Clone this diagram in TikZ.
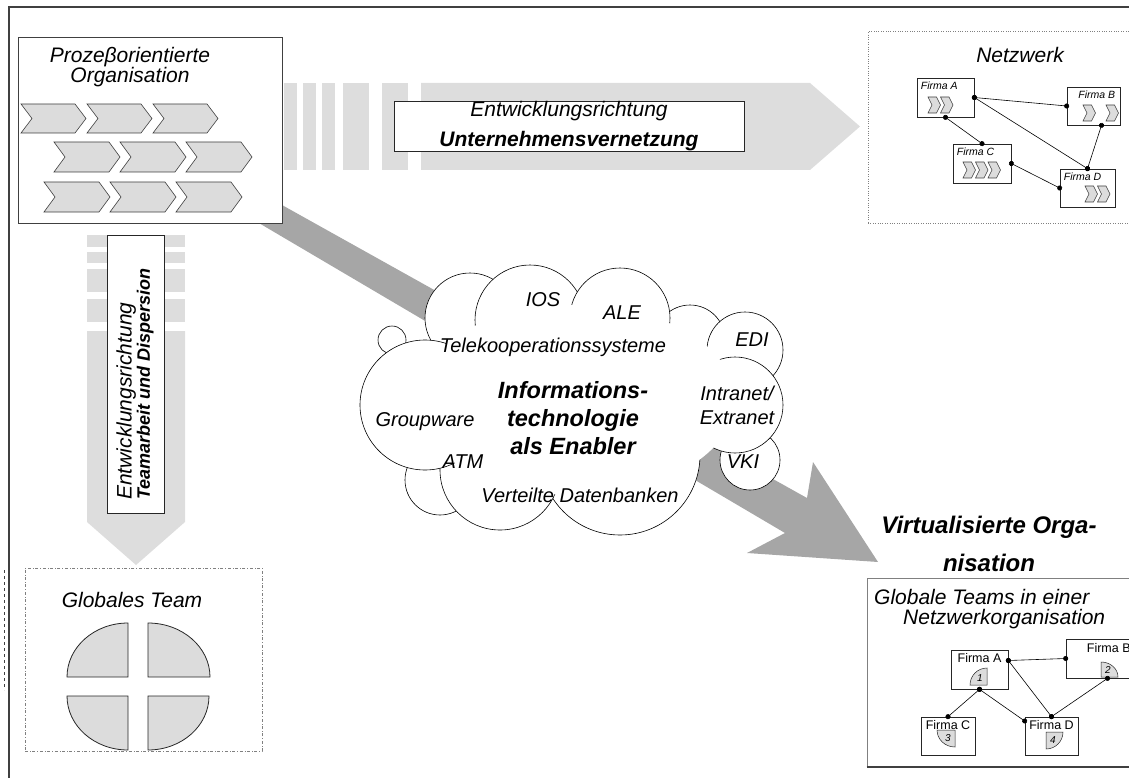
\documentclass[tikz,border=0pt]{standalone}
\usepackage{fontspec}
\setmainfont{Liberation Sans}
\usetikzlibrary{arrows.meta}

\definecolor{arrowlight}{HTML}{DDDDDD}
\definecolor{chevgray}{HTML}{DCDCDC}
\definecolor{bandgray}{HTML}{A6A6A6}
\definecolor{framegray}{HTML}{404040}

\newcommand{\fs}[1]{\fontsize{#1}{1.2\dimexpr #1pt\relax}\selectfont}
% chevron: left x, top y, width, height, depth of tip
\newcommand{\chevron}[5]{\filldraw[chev] (#1,#2) -- ++(#3-#5,0) -- ++(#5,#4/2) -- ++(-#5,#4/2) -- ++(-#3+#5,0) -- ++(#5,-#4/2) -- cycle;}
% quarter ellipse: corner x, corner y, signed x radius, signed y radius
\newcommand{\quarter}[5][quart]{\filldraw[#1] (#2,#3) -- ({#2+#4},#3) .. controls ({#2+#4},{#3+0.552*#5}) and ({#2+0.552*#4},{#3+#5}) .. (#2,{#3+#5}) -- cycle;}

\tikzset{
  chev/.style={fill=chevgray, draw=framegray, line width=0.6pt},
  quart/.style={fill=chevgray, draw=black!85, line width=0.8pt},
  icon/.style={fill=chevgray, draw=black!85, line width=0.5pt},
  whitebox/.style={draw=black!85, fill=white, line width=0.7pt, inner sep=0pt},
  firma/.style={draw=black!85, fill=white, line width=0.7pt, inner sep=0pt},
  link/.style={line width=0.6pt, {Circle[length=5pt]}-{Circle[length=5pt]}, shorten <=-2.5pt, shorten >=-2.5pt},
  puff/.style={fill=white, draw=black, line width=0.6pt},
  it/.style={font=\fs{21}\itshape},
  cloudtxt/.style={font=\fs{20}\itshape},
  cloudbold/.style={font=\fs{23.5}\bfseries\itshape, align=center},
}

\begin{document}
\begin{tikzpicture}[x=1pt, y=-1pt]
\useasboundingbox (0,0) rectangle (1129,778);

% light arrows
\foreach \a/\b in {284/297, 303/316, 322/335, 343/369, 382/408}
  {\fill[arrowlight] (\a,83) rectangle (\b,170);}
\fill[arrowlight] (421,83) -- (810,83) -- (860,126.5) -- (810,170) -- (421,170) -- cycle;
\foreach \a/\b in {235/247, 252/263, 269/292, 299/322}
  {\fill[arrowlight] (87,\a) rectangle (185,\b);}
\fill[arrowlight] (87,331) -- (185,331) -- (185,522) -- (136,565) -- (87,522) -- cycle;

% dark band to the virtual organisation
\fill[bandgray] (230,176) -- (807,498) -- (813,462) -- (878,562) -- (747,553) -- (785,533) -- (230,206) -- cycle;

% process organisation
\node[whitebox, draw=framegray, minimum width=264pt, minimum height=186pt] (proc) at (150,130) {};
\node[align=center, font=\fontsize{21}{20}\selectfont\itshape] (proctitle) at (130,67) {Prozeβorientierte\\Organisation};
\foreach \x in {21,87,153} {\chevron{\x}{104}{65}{29}{11}}
\foreach \x in {54,120,186} {\chevron{\x}{142}{66}{30}{11}}
\foreach \x in {44,110,176} {\chevron{\x}{182}{66}{30}{11}}

% labels on the arrows
\node[whitebox, minimum width=350pt, minimum height=50pt, align=center, font=\fs{21}\itshape] (hbox) at (569,126)
  {Entwicklungsrichtung\\[4pt]\bfseries Unternehmensvernetzung};
\node[whitebox, minimum width=57pt, minimum height=278pt] (vbox) at (135.5,374) {};
\node[rotate=90, align=left] (vtext) at (135,384)
  {{\fs{21}\itshape Entwicklungsrichtung}\\{\fs{18}\bfseries\itshape Teamarbeit und Dispersion}};

% cloud
\foreach \cx/\cy/\r in {392/340/14, 750/460/30, 440/480/35, 690/340/35, 745/350/38,
    470/318/45, 530/320/55, 620/318/50, 735/405/48, 620/455/80, 500/470/60, 425/405/65}
  {\filldraw[puff] (\cx,\cy) circle[radius=\r];}
\fill[white] (575,400) ellipse[x radius=160, y radius=95];
\node[cloudtxt] (ios) at (543,300) {IOS};
\node[cloudtxt] (ale) at (622,313) {ALE};
\node[cloudtxt] (teko) at (553,347) {Telekooperationssysteme};
\node[cloudtxt] (edi) at (752,340) {EDI};
\node[cloudbold] (itech) at (573,418) {Informations-\\technologie\\als Enabler};
\node[cloudtxt, align=center] (inet) at (737,405) {Intranet/\\Extranet};
\node[cloudtxt] (gw) at (425,422) {Groupware};
\node[cloudtxt] (atm) at (463,462) {ATM};
\node[cloudtxt] (vki) at (743,462) {VKI};
\node[cloudtxt] (vdb) at (580,495) {Verteilte Datenbanken};

% network
\node[draw=gray, dotted, minimum width=267pt, minimum height=192pt] (netz) at (1001.5,127) {};
\node[it] (netztitle) at (1020,55) {Netzwerk};
\node[firma, minimum width=57pt, minimum height=39pt] (ta) at (945.5,97.5) {};
\node[firma, minimum width=53pt, minimum height=38pt] (tb) at (1093.5,106) {};
\node[firma, minimum width=58pt, minimum height=39pt] (tc) at (982,163.5) {};
\node[firma, minimum width=55pt, minimum height=38pt] (td) at (1087.5,188) {};
\foreach \n/\t in {ta/Firma A, tc/Firma C, td/Firma D}
  {\node[font=\fs{10.5}\itshape, anchor=north west, inner sep=0pt] (\n lab) at ([shift={(4,4)}]\n.north west) {\t};}
\node[font=\fs{10.5}\itshape, anchor=north east, inner sep=0pt] (tblab) at ([shift={(-5,4)}]tb.north east) {Firma B};
\chevron{928}{97}{12.5}{16}{4}\chevron{940.5}{97}{12.5}{16}{4}
\chevron{1083}{105}{12.5}{16}{4}\chevron{1106}{105}{12.5}{16}{4}
\chevron{963}{162}{12.5}{16}{4}\chevron{975.5}{162}{12.5}{16}{4}\chevron{988}{162}{12.5}{16}{4}
\chevron{1085}{186}{12.5}{16}{4}\chevron{1097.5}{186}{12.5}{16}{4}
\draw[link] (ta.east) -- (tb.west);
\draw[link] (ta.east) -- (td.north);
\draw[link] (ta.south) -- (tc.north);
\draw[link] ([shift={(8,0)}]tb.south) -- (td.north);
\draw[link] (tc.east) -- (td.west);

% global team
\node[draw=gray, dash dot, line width=0.8pt, minimum width=237pt, minimum height=183pt] (gteam) at (143.5,659.5) {};
\node[it] (gtitle) at (132,600) {Globales Team};
\quarter{128}{677}{-61}{-54}
\quarter{148}{677}{62}{-54}
\quarter{128}{696}{-61}{54}
\quarter{148}{696}{61}{54}
\draw[framegray, dashed] (4,570) -- (4,690);

% virtual organisation
\node[font=\fontsize{24}{38}\selectfont\bfseries\itshape, align=center] (virt) at (989,544) {Virtualisierte Orga-\\nisation};
\node[whitebox, draw=gray, minimum width=273pt, minimum height=188pt] (gtbox) at (1003.5,672.5) {};
\draw[framegray, line width=2.5pt] (gtbox.south west) -- (gtbox.south east);
\node[it, anchor=west, inner sep=0pt] (gtl1) at (874,597) {Globale Teams in einer};
\node[it, anchor=west, inner sep=0pt] (gtl2) at (903,619) {Netzwerkorganisation};
\node[firma, minimum width=57pt, minimum height=39pt] (ba) at (979.5,669.5) {};
\node[firma, minimum width=69pt, minimum height=39pt] (bb) at (1100.5,658.5) {};
\node[firma, minimum width=54pt, minimum height=38pt] (bc) at (948,736) {};
\node[firma, minimum width=53pt, minimum height=38pt] (bd) at (1051.5,736) {};
\foreach \n/\t in {ba/Firma A, bc/Firma C, bd/Firma D}
  {\node[font=\fs{12.5}, anchor=north, inner sep=0pt] (\n lab) at ([shift={(0,4)}]\n.north) {\t};}
\node[font=\fs{12.5}, anchor=north west, inner sep=0pt] (bblab) at ([shift={(21,5)}]bb.north west) {Firma B};
\quarter[icon]{987}{685}{-17}{-17}
\quarter[icon]{1101}{677}{17}{-15}
\quarter[icon]{955}{730}{-18}{17}
\quarter[icon]{1046}{732}{17}{17}
\foreach \n/\x/\y in {1/980/678, 2/1108/670, 3/948/738, 4/1053/740}
  {\node[font=\fs{10}\itshape, inner sep=0pt] (num\n) at (\x,\y) {\n};}
\draw[link] ([shift={(0,-9)}]ba.east) -- (bb.west);
\draw[link] ([shift={(0,-9)}]ba.east) -- (bd.north);
\draw[link] (ba.south) -- (bc.north);
\draw[link] (ba.south) -- ([shift={(0,-15)}]bd.west);
\draw[link] ([shift={(7,0)}]bb.south) -- (bd.north);

% frame
\draw[framegray, line width=2pt] (9,778) -- (9,7) -- (1129,7);
\end{tikzpicture}
\end{document}
